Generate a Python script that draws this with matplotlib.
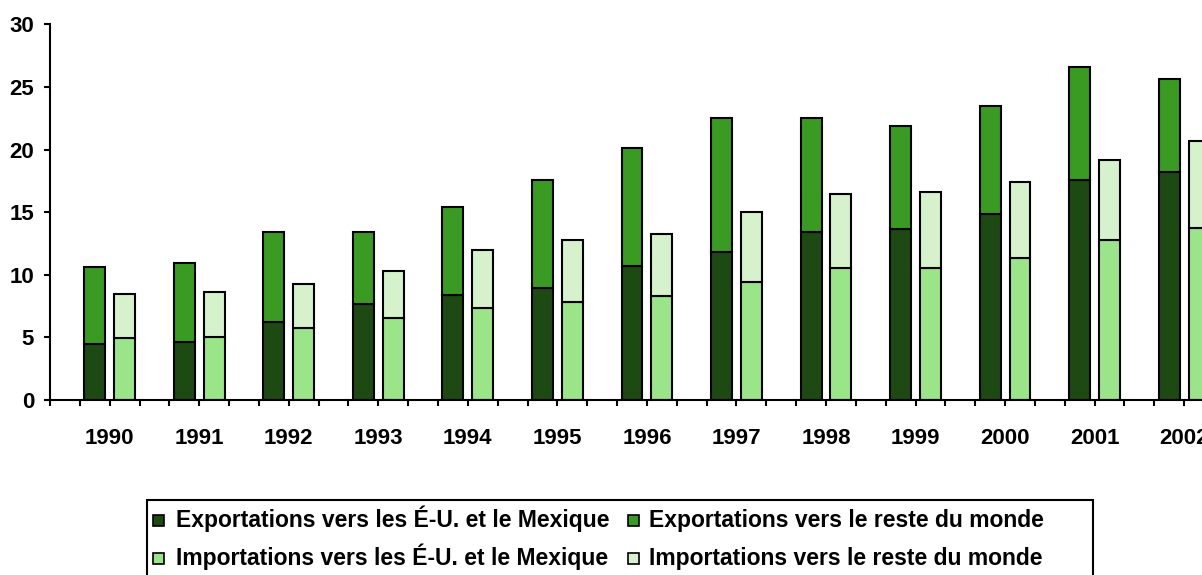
import matplotlib.pyplot as plt
from matplotlib.patches import Rectangle
import numpy as np

plt.rcParams['font.family'] = ['Liberation Sans', 'DejaVu Sans']
plt.rcParams['font.weight'] = 'bold'

years = ['1990', '1991', '1992', '1993', '1994', '1995', '1996',
         '1997', '1998', '1999', '2000', '2001', '2002']

# exportations (milliards $)
exp_na = [4.45, 4.6, 6.23, 7.67, 8.41, 8.92, 10.68, 11.8, 13.39, 13.68, 14.83, 17.55, 18.18]
exp_rest = [6.2, 6.37, 7.17, 5.73, 7.03, 8.63, 9.42, 10.7, 9.11, 8.18, 8.63, 9.07, 7.48]
# importations
imp_na = [4.93, 5.06, 5.73, 6.52, 7.32, 7.8, 8.31, 9.4, 10.54, 10.54, 11.32, 12.75, 13.71]
imp_rest = [3.51, 3.54, 3.51, 3.81, 4.66, 4.95, 4.92, 5.59, 5.91, 6.05, 6.07, 6.39, 7.0]

labels = ['Exportations vers les É-U. et le Mexique',
          'Exportations vers le reste du monde',
          'Importations vers les É-U. et le Mexique',
          'Importations vers le reste du monde']
colors = ['#1c4a12', '#3a9b23', '#9be589', '#d5f2cc']

W, H = 1202, 575
fig = plt.figure(figsize=(W / 100, H / 100), dpi=100)
ax = fig.add_axes([50 / W, 175 / H, 1164 / W, 375.7 / H])

n = len(years)
# three slots per year: blank, exports, imports
x_exp = np.arange(n) * 3 + 1
x_imp = np.arange(n) * 3 + 2
kw = dict(width=0.7, edgecolor='black', linewidth=1.5)

ax.bar(x_exp, exp_na, color=colors[0], **kw)
ax.bar(x_exp, exp_rest, bottom=exp_na, color=colors[1], **kw)
ax.bar(x_imp, imp_na, color=colors[2], **kw)
ax.bar(x_imp, imp_rest, bottom=imp_na, color=colors[3], **kw)

ax.set_xlim(-0.5, 3 * n - 0.5)
ax.set_ylim(0, 30)
ax.set_yticks(range(0, 31, 5))

bounds = np.arange(-0.5, 3 * n, 1)
xt_labels = [''] * len(bounds)
for k, yr in enumerate(years):
    xt_labels[3 * k + 2] = yr
ax.set_xticks(bounds)
ax.set_xticklabels(xt_labels)

ax.tick_params(axis='x', direction='out', length=4.5, width=1.5, pad=16,
               labelsize=16)
ax.tick_params(axis='y', direction='out', length=4.5, width=1.5, pad=7,
               labelsize=16)
for lab in ax.get_xticklabels() + ax.get_yticklabels():
    lab.set_fontweight('bold')

ax.spines['top'].set_visible(False)
ax.spines['right'].set_visible(False)
ax.spines['left'].set_linewidth(1.5)
ax.spines['bottom'].set_linewidth(1.5)

# legend drawn by hand (box runs off the bottom edge like the original)
fig.add_artist(Rectangle((147 / W, 1 - 600 / H), 946 / W, 100 / H,
                         transform=fig.transFigure, facecolor='white',
                         edgecolor='black', linewidth=1.5))
col_x = [153, 628]
text_x = [176, 649]
row_mid = [520, 558]
row_base = [527, 565]
for i, (lab, c) in enumerate(zip(labels, colors)):
    r, col = i // 2, i % 2
    fig.add_artist(Rectangle((col_x[col] / W, 1 - (row_mid[r] + 5.5) / H),
                             11 / W, 11 / H, transform=fig.transFigure,
                             facecolor=c, edgecolor='black', linewidth=1.2))
    fig.text(text_x[col] / W, 1 - row_base[r] / H, lab, fontsize=16.5,
             fontweight='bold', ha='left', va='baseline')

fig.savefig('out.png', dpi=100)
